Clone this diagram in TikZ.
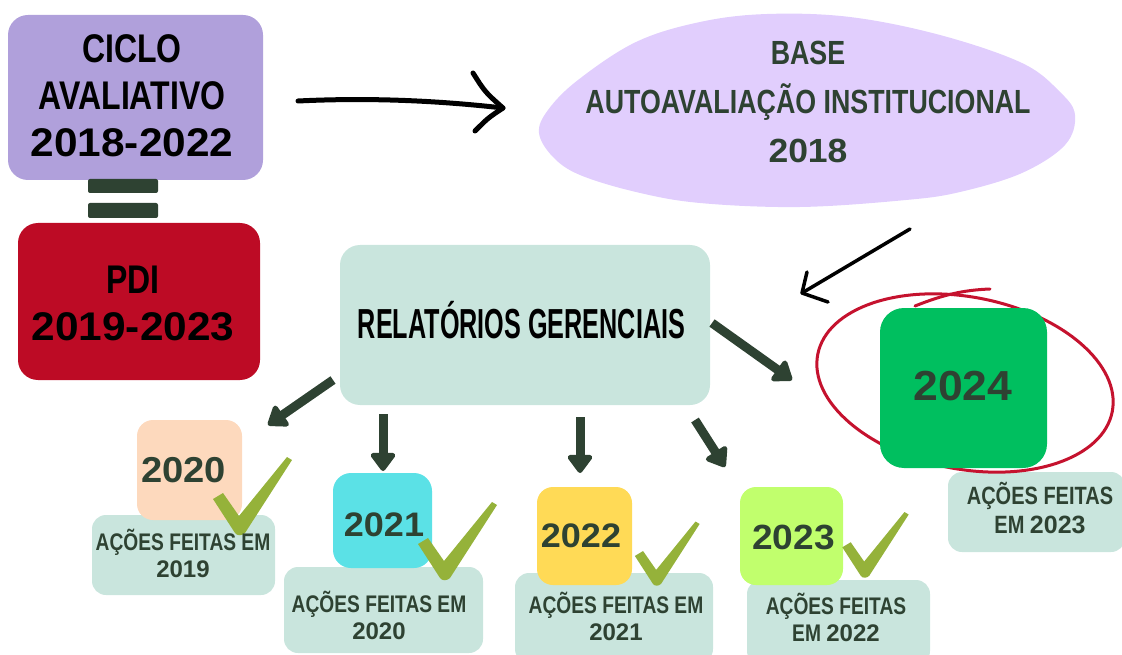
\documentclass[tikz,border=0pt]{standalone}
\usepackage{fontspec}
\setmainfont{Liberation Sans}
\newfontfamily\hand[FakeStretch=0.8]{Liberation Sans}
\newfontfamily\handc[FakeStretch=0.6]{Liberation Sans}
\newfontfamily\handn[FakeStretch=1.06]{Liberation Sans}
\usetikzlibrary{arrows.meta}
\definecolor{ciclo}{HTML}{B0A0DB}
\definecolor{pdi}{HTML}{BD0B25}
\definecolor{basec}{HTML}{E1CEFD}
\definecolor{relc}{HTML}{C9E5DD}
\definecolor{y20}{HTML}{FDD9BD}
\definecolor{y21}{HTML}{5BE1E6}
\definecolor{y22}{HTML}{FFDA56}
\definecolor{y23}{HTML}{C1FF6D}
\definecolor{y24}{HTML}{00BF5F}
\definecolor{chkc}{HTML}{95B23A}
\definecolor{redc}{HTML}{C5122E}
\definecolor{dk}{HTML}{2E4232}
\tikzset{
  box/.style={rectangle, rounded corners=20pt, inner sep=0pt},
  txt/.style={inner sep=0pt, align=center, text=dk},
  darrow/.style={draw=dk, line width=9pt, -{Triangle[width=28pt,length=20pt,round]}},
  sketch/.style={draw=black, line cap=round, line join=round},
  chk/.pic={\fill[chkc] (-27,-33) -- (-17,-39) -- (-1,-16) -- (47,-75) -- (52,-72) -- (5,1) .. controls (2,4) and (-3,4) .. (-5,1) -- cycle;},
  acts/.style={txt, font=\hand\bfseries\fontsize{24}{27}\selectfont}
}
\begin{document}
\begin{tikzpicture}[x=1pt,y=-1pt]
\useasboundingbox (0,0) rectangle (1122,655);
\clip (0,0) rectangle (1122,655);
% base ellipse (blob)
\fill[basec] plot[smooth cycle, tension=0.6] coordinates {(539,133) (548,110) (578,80) (636,42) (700,22) (767,14) (850,17) (940,35) (1022,63) (1060,92) (1075,115) (1065,145) (1022,173) (960,192) (906,200) (800,207) (700,203) (636,192) (580,175) (553,157)};
\node[txt, font=\hand\bfseries\fontsize{33.5}{49}\selectfont] (tbase) at (808,102) {BASE\\AUTOAVALIAÇÃO INSTITUCIONAL\\{\handn\bfseries 2018}};
% left boxes
\node[box, fill=ciclo, minimum width=255pt, minimum height=165pt] (ciclo) at (135.5,97.5) {};
\node[txt, text=black, font=\hand\bfseries\fontsize{40}{47}\selectfont] (tciclo) at (132,96) {CICLO\\AVALIATIVO\\{\handn\bfseries 2018-2022}};
\node[box, fill=dk, rounded corners=2pt, minimum width=70pt, minimum height=14pt] (eq1) at (123,186) {};
\node[box, fill=dk, rounded corners=2pt, minimum width=70pt, minimum height=15pt] (eq2) at (123,210.5) {};
\node[box, fill=pdi, minimum width=242pt, minimum height=157pt] (pdi) at (139,301.5) {};
\node[txt, text=black, font=\hand\bfseries\fontsize{40}{47}\selectfont] (tpdi) at (133,303.5) {PDI\\{\handn\bfseries 2019-2023}};
% relatorios
\node[box, fill=relc, minimum width=370pt, minimum height=160pt] (rel) at (525,325) {};
\node[txt, text=black, font=\handc\bfseries\fontsize{42}{48}\selectfont] (trel) at (521.5,320) {RELATÓRIOS GERENCIAIS};
% black sketch arrows
\coordinate (s1) at (298,101); \coordinate (e1) at (503,108);
\coordinate (b1a) at (473,73); \coordinate (b1b) at (475,131);
\draw[sketch, line width=5pt] (s1) .. controls (380,97) and (450,102) .. (e1);
\draw[sketch, line width=5pt] (b1a) .. controls (485,92) .. (e1) .. controls (488,118) .. (b1b);
\coordinate (s2) at (910,229); \coordinate (e2) at (802,293);
\coordinate (b2a) at (807,272); \coordinate (b2b) at (828,302);
\draw[sketch, line width=3.5pt] (s2) -- (e2);
\draw[sketch, line width=3.5pt] (b2a) -- (e2) -- (b2b);
% action boxes
\node[box, fill=relc, rounded corners=14pt, minimum width=183pt, minimum height=80pt] (a19) at (183.5,555) {};
\node[box, fill=relc, rounded corners=14pt, minimum width=199pt, minimum height=86pt] (a20) at (383.5,610) {};
\node[box, fill=relc, rounded corners=14pt, minimum width=198pt, minimum height=90pt] (a21) at (614,618) {};
\node[box, fill=relc, rounded corners=14pt, minimum width=183pt, minimum height=85pt] (a22) at (838.5,622.5) {};
\node[box, fill=relc, rounded corners=14pt, minimum width=177pt, minimum height=80pt] (a23) at (1036.5,512) {};
% red ellipse and 2024
\draw[redc, line width=3pt, rotate around={-11:(965,383)}] (965,383) ellipse (150 and 86);
\draw[redc, line width=3pt, line cap=round] (915,306) .. controls (945,294) and (965,290) .. (990,289);
\node[box, fill=y24, rounded corners=24pt, minimum width=167pt, minimum height=160pt] (c24) at (963.5,388) {};
% year boxes
\node[box, fill=y20, rounded corners=16pt, minimum width=105pt, minimum height=100pt] (c20) at (189.5,470) {};
\node[box, fill=y21, rounded corners=18pt, minimum width=99pt, minimum height=95pt] (c21) at (382.5,520.5) {};
\node[box, fill=y22, rounded corners=16pt, minimum width=95pt, minimum height=98pt] (c22) at (584.5,536) {};
\node[box, fill=y23, rounded corners=16pt, minimum width=103pt, minimum height=98pt] (c23) at (791.5,536) {};
% checks
\pic at (240,532) {chk};
\pic at (445,577) {chk};
\pic[scale=0.82] at (657,583) {chk};
\pic[scale=0.84] at (865,575) {chk};
% year texts
\node[txt, font=\handn\bfseries\fontsize{36}{40}\selectfont] (t20) at (183.5,470) {2020};
\node[txt, font=\handn\bfseries\fontsize{34}{40}\selectfont] (t21) at (384,524.5) {2021};
\node[txt, font=\handn\bfseries\fontsize{34}{40}\selectfont] (t22) at (581,535.5) {2022};
\node[txt, font=\handn\bfseries\fontsize{35}{40}\selectfont] (t23) at (793.5,537.5) {2023};
\node[txt, font=\handn\bfseries\fontsize{42}{48}\selectfont] (t24) at (963,386) {2024};
% action texts
\node[acts] (ta19) at (183,553.5) {AÇÕES FEITAS EM\\{\rmfamily\bfseries 2019}};
\node[acts] (ta20) at (379,615) {AÇÕES FEITAS EM\\{\rmfamily\bfseries 2020}};
\node[acts] (ta21) at (616,616.5) {AÇÕES FEITAS EM\\{\rmfamily\bfseries 2021}};
\node[acts] (ta22) at (836,617.5) {AÇÕES FEITAS\\EM {\rmfamily\bfseries 2022}};
\node[txt, font=\hand\bfseries\fontsize{25}{29}\selectfont] (ta23) at (1040,508.5) {AÇÕES FEITAS\\EM {\rmfamily\bfseries 2023}};
% dark arrows
\coordinate (d1s) at (333,380); \coordinate (d1e) at (268,425);
\coordinate (d2s) at (383,414); \coordinate (d2e) at (383,471);
\coordinate (d3s) at (580,417); \coordinate (d3e) at (580,473);
\coordinate (d4s) at (695,420); \coordinate (d4e) at (725,467);
\coordinate (d5s) at (712,323); \coordinate (d5e) at (792,380);
\draw[darrow] (d1s) -- (d1e);
\draw[darrow] (d2s) -- (d2e);
\draw[darrow] (d3s) -- (d3e);
\draw[darrow] (d4s) -- (d4e);
\draw[darrow] (d5s) -- (d5e);
\end{tikzpicture}
\end{document}
